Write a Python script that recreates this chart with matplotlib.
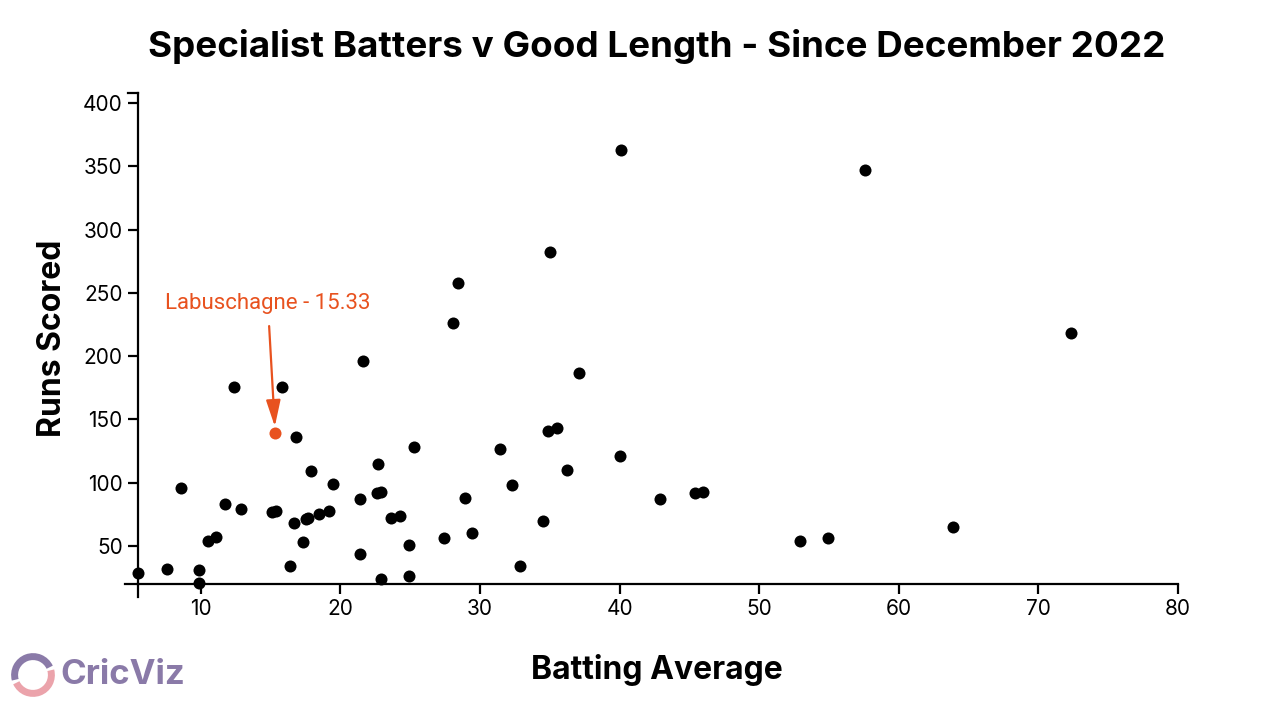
import matplotlib
matplotlib.use("Agg")
import matplotlib.pyplot as plt
from matplotlib.lines import Line2D
from matplotlib.patches import Arc

plt.rcParams['font.family'] = ['Inter', 'DejaVu Sans']

# batting average v runs scored against good length balls
avg = [5.5, 7.6, 8.6, 9.9, 9.9, 10.5, 11.1, 11.7, 12.4, 12.9,
       15.1, 15.4, 15.8, 16.4, 16.7, 16.8, 17.3, 17.5, 17.7, 17.9,
       18.5, 19.2, 19.5, 21.4, 21.4, 21.6, 22.7, 22.6, 22.9, 22.9,
       23.6, 24.3, 24.9, 24.9, 25.3, 27.4, 28.1, 28.4, 28.9, 29.4,
       31.4, 32.3, 32.9, 34.5, 34.9, 35.0, 35.5, 36.2, 37.1, 40.0,
       40.1, 42.9, 45.4, 46.0, 52.9, 54.9, 57.6, 63.9, 72.3]
runs = [29, 32, 96, 31, 21, 54, 57, 83, 176, 79,
        77, 78, 176, 34, 68, 136, 53, 71, 72, 109,
        75, 78, 99, 44, 87, 196, 115, 92, 93, 24,
        72, 74, 51, 26, 128, 56, 226, 258, 88, 60,
        127, 98, 34, 70, 141, 282, 143, 110, 187, 121,
        363, 87, 92, 93, 54, 56, 347, 65, 218]

hl_name = 'Labuschagne'
hl_avg = 15.33
hl_runs = 139

orange = '#e8521f'

fig = plt.figure(figsize=(12.8, 7.2), dpi=100)
ax = fig.add_axes([138 / 1280, 1 - 584 / 720, (1178 - 138) / 1280, (584 - 93) / 720])

ax.scatter(avg, runs, s=75, color='black', linewidths=0, zorder=3, clip_on=False)
ax.scatter([hl_avg], [hl_runs], s=75, color=orange, linewidths=0, zorder=4)

ax.annotate(f'{hl_name} - {hl_avg:.2f}', xy=(hl_avg, hl_runs), xytext=(14.8, 242),
            ha='center', va='center', fontsize=16, color=orange,
            family=['Roboto', 'DejaVu Sans'],
            arrowprops=dict(arrowstyle='-|>,head_length=0.8,head_width=0.22',
                            color=orange, lw=1.6, shrinkA=7, shrinkB=5,
                            mutation_scale=20))

ax.set_xlim(5.5, 80)
ax.set_ylim(20, 408)
ax.set_xticks([10, 20, 30, 40, 50, 60, 70, 80])
ax.set_yticks([50, 100, 150, 200, 250, 300, 350, 400])

for s in ['top', 'right']:
    ax.spines[s].set_visible(False)
for s in ['left', 'bottom']:
    ax.spines[s].set_linewidth(1.6)
ax.tick_params(length=7, width=1.6, labelsize=15, pad=4, direction='out')

# small overhangs where the axes cross
fig.add_artist(Line2D([125 / 1280, 138 / 1280], [1 - 584 / 720] * 2, color='black', lw=1.6))
fig.add_artist(Line2D([138 / 1280] * 2, [1 - 584 / 720, 1 - 597 / 720], color='black', lw=1.6))
fig.add_artist(Line2D([128 / 1280, 138 / 1280], [1 - 93 / 720] * 2, color='black', lw=1.6))

fig.text(0.513, 0.935, 'Specialist Batters v Good Length - Since December 2022',
         ha='center', va='center', fontsize=26.5, fontweight='bold')
fig.text(53 / 1280, 1 - 338 / 720, 'Runs Scored', rotation=90,
         ha='center', va='center', fontsize=23, fontweight='bold')
fig.text(657 / 1280, 1 - 670 / 720, 'Batting Average',
         ha='center', va='center', fontsize=23, fontweight='bold')

# CricViz logo
logo_ax = fig.add_axes([10 / 1280, 1 - 698 / 720, 46 / 1280, 46 / 720])
logo_ax.set_xlim(-1, 1)
logo_ax.set_ylim(-1, 1)
logo_ax.set_aspect('equal')
logo_ax.axis('off')
logo_ax.add_patch(Arc((0, 0), 1.6, 1.6, theta1=25, theta2=195, lw=5, color='#8a7aa8'))
logo_ax.add_patch(Arc((0, 0), 1.6, 1.6, theta1=205, theta2=375, lw=5, color='#eba3ab'))
fig.text(60 / 1280, 1 - 675 / 720, 'CricViz', ha='left', va='center',
         fontsize=25, fontweight='bold', color='#8a7aa8')

fig.savefig('out.png', dpi=100)
